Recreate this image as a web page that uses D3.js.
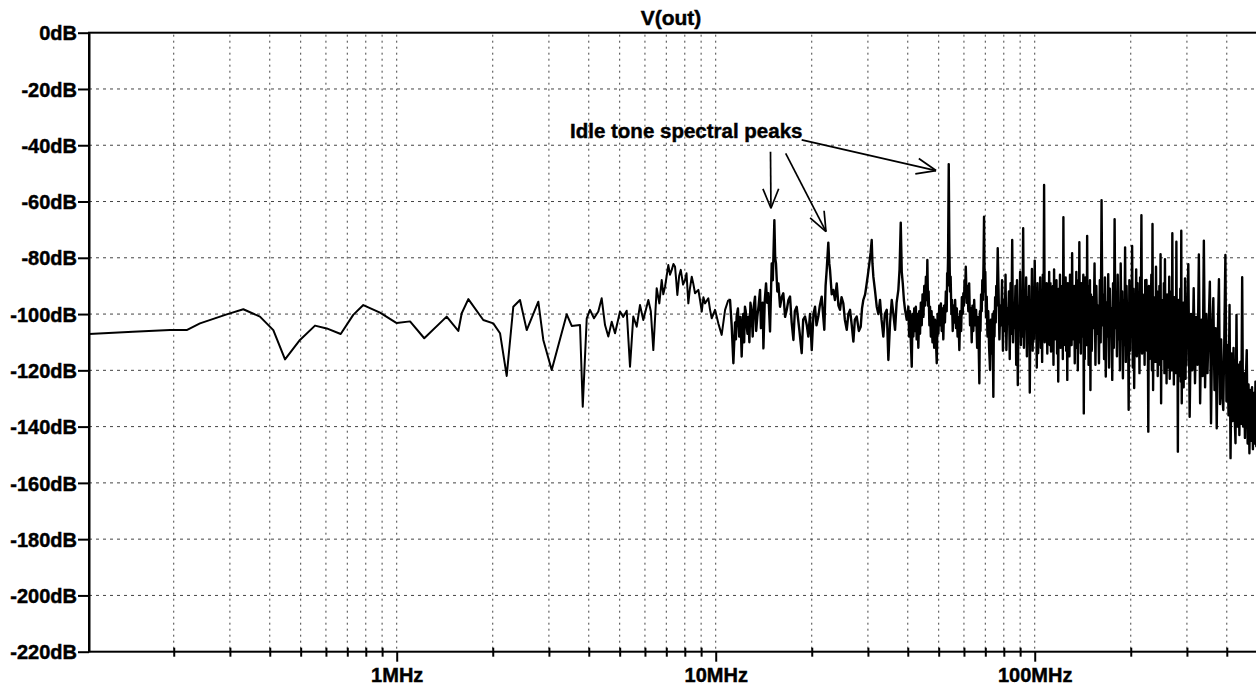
<!DOCTYPE html>
<html><head><meta charset="utf-8">
<script src="https://cdn.jsdelivr.net/npm/d3@7"></script>
<style>
body{margin:0;background:#fff}
svg{display:block}
text{font-family:"Liberation Sans",Arial,Helvetica,sans-serif;font-weight:bold;fill:#000;stroke:#000;stroke-width:0.45px}
</style>
</head><body>
<svg id="chart" width="1256" height="687"></svg>
<script>
// ---------------- data ----------------
const chartTitle = "V(out)";
const xDomainMHz = [0.1085, 500];
const yDomainDb = [-220, 0];
const xMajorTicks = [1, 10, 100];
const xMajorLabels = ["1MHz", "10MHz", "100MHz"];
const yTicks = [0, -20, -40, -60, -80, -100, -120, -140, -160, -180, -200, -220];
const yTickLabels = ["0dB", "-20dB", "-40dB", "-60dB", "-80dB", "-100dB", "-120dB", "-140dB", "-160dB", "-180dB", "-200dB", "-220dB"];

// [frequency MHz, level dB]
const lowBand = [
  [0.1085,-107.1],[0.149,-106.3],[0.1947,-105.7],[0.2196,-105.7],[0.2417,-103.3],[0.2932,-100.1],
  [0.3305,-98.3],[0.3727,-100.9],[0.4104,-105.7],[0.4466,-116.1],[0.4974,-109.2],[0.5545,-104.1],
  [0.6034,-105.1],[0.6675,-107.1],[0.7306,-100.3],[0.7857,-96.8],[0.8864,-99.5],[1.0,-103.2],
  [1.101,-102.6],[1.22,-108.6],[1.434,-100.9],[1.56,-106],[1.599,-99.7],[1.677,-94.7],[1.868,-102.1],
  [2.008,-103.3],[2.108,-106.8],[2.212,-122],[2.32,-97.4],[2.435,-95],[2.556,-105.7],[2.779,-95.6],
  [2.881,-109.2],[3.061,-119.9],[3.412,-100.1],[3.537,-104.2],[3.755,-103.9],[3.83,-132.9],[3.942,-101.5],
  [4.036,-98.5],[4.154,-101.5],[4.285,-99.1],[4.391,-94.4],[4.498,-103.9],[4.606,-108],[4.721,-102.7],
  [4.835,-106.8],[5.012,-99.1],[5.13,-101],[5.26,-98.8],[5.387,-118.7],[5.516,-100.9],[5.655,-104.5],
  [5.789,-96.8],[5.929,-102.1],[6.149,-95],[6.26,-99],[6.374,-112.8],[6.531,-90.8],[6.656,-96.2],
  [6.772,-87.9],[6.85,-93],[6.936,-90.3],[7.103,-82.6],[7.19,-86],[7.28,-84.3],[7.37,-82.2],[7.456,-83.2],
  [7.52,-88],[7.581,-93.2],[7.68,-86.5],[7.77,-84.3],[7.9,-89.5],[8.014,-87.9],[8.1,-85.5],[8.207,-96.2],
  [8.3,-91],[8.412,-86.7],[8.5,-89],[8.614,-92.6],[8.822,-91.4],[8.93,-95],[9.041,-99.1],[9.15,-94],
  [9.258,-96.2],[9.481,-94.4],[9.6,-98.5],[9.716,-101.5],[9.95,-98.5],[10.19,-103.3],[10.44,-107.4],
  [10.7,-98.5],[10.95,-95]
];
const midBand = [
  [10.95,-95],
  [11.09,-95.0],[11.22,-104],[11.36,-117.5],[11.5,-103],[11.57,-109],[11.63,-100.9],[11.74,-98],
  [11.85,-108],[11.96,-101],[12.06,-115.1],[12.13,-106],[12.2,-100],[12.28,-110],[12.35,-97.4],
  [12.42,-99],[12.5,-104],[12.58,-107],[12.66,-100.9],[12.75,-110],[12.85,-96],[12.95,-99],[13.06,-108],
  [13.17,-97],[13.28,-93.8],[13.39,-106],[13.5,-101],[13.63,-97],[13.77,-91.4],[13.86,-105],[13.95,-100],
  [14.03,-96],[14.11,-112.2],[14.25,-95],[14.38,-89.1],[14.5,-96],[14.62,-92.6],
  [14.8,-106.2],[14.98,-82],[15.1,-88],[15.27,-66.6],[15.36,-80],[15.45,-82],[15.6,-92],[15.72,-89.1],
  [15.91,-97.4],[16.1,-94],[16.29,-92.6],[16.5,-101],[16.7,-98.5],[16.9,-95],[17.1,-93.8],[17.3,-103],
  [17.52,-109.2],[17.7,-99],[17.94,-97.4],[18.3,-106],[18.6,-113.9],[18.8,-102],[19.05,-100.9],
  [19.3,-104],[19.51,-108],[19.75,-100],[20.0,-112.8],[20.25,-100],[20.48,-97.4],[20.7,-104],
  [20.97,-100.9],[21.2,-97],[21.49,-93.8],[21.7,-100],[21.9,-105.6],[22.1,-90],[22.28,-84.3],
  [22.54,-74.6],[22.7,-82],[22.82,-84.3],[23.1,-93],[23.37,-91.4],[23.65,-95],[23.95,-89.1],[24.25,-97],
  [24.53,-98.5],[24.8,-94],[25.12,-96.2],[25.4,-102],[25.75,-105.6],[26.05,-100],[26.37,-98.5],
  [26.7,-104],[27.01,-109.8],[27.3,-102],[27.67,-100.9],[28.1,-106],[28.48,-104.5],[28.75,-98],
  [29.02,-95],[29.4,-93],[29.74,-89.1],[30.0,-86],[30.31,-82],[30.6,-78],[30.83,-73.7],[31.0,-82],
  [31.2,-86.7],[31.6,-92],[31.97,-97.4],[32.35,-100],[32.74,-95],[33.1,-102],[33.53,-108],[33.9,-100],
  [34.37,-98.5],[34.77,-116.3],[35.2,-103],[35.63,-95],[36.05,-100],[36.49,-105.6],[36.9,-96],
  [37.37,-91.4],[37.7,-84],[38.02,-67.5],[38.3,-85],[38.58,-89.1],[38.9,-95],[39.22,-98.5],[39.7,-102],
  [40.17,-97.4],[40.4,-108],[40.65,-99],[40.9,-110],[41.16,-118.7],[41.4,-100],[41.65,-108],[41.9,-98],
  [42.16,-106],[42.4,-97.4],[42.65,-109],[42.9,-100],[43.17,-112],[43.45,-99],[43.7,-107],[43.95,-96],
  [44.24,-104],[44.5,-93],[44.8,-101],[45.05,-90],[45.31,-97],[45.6,-86.7],[45.85,-95],[46.07,-80.8],
  [46.3,-97],[46.5,-92],[46.75,-104],[46.97,-97.4],[47.25,-108],[47.5,-99],[47.8,-110],[48.1,-101],
  [48.4,-112],[48.7,-102],[49.0,-109],[49.3,-117.5],[49.6,-100],[49.9,-107],[50.2,-97],[50.48,-104],
  [50.8,-96.2],[51.1,-106],[51.4,-98],[51.7,-109],[52.0,-97],[52.3,-103],[52.65,-92],[52.98,-99],
  [53.15,-85.5],[53.3,-90],[53.5,-80],[53.76,-46.7],[54.0,-75],[54.27,-92],[54.5,-86.7],[54.8,-100],
  [55.05,-95],[55.33,-106],[55.65,-97],[56.0,-103],[56.3,-95],[56.67,-105],[57.0,-98],[57.3,-108],
  [57.65,-101],[58.04,-112.8],[58.4,-99],[58.8,-106],[59.1,-94],[59.48,-100],[59.75,-92.6],[60.0,-97],
  [60.25,-88],[60.47,-94],[60.8,-83.2],[61.2,-96],[61.55,-90],[61.92,-99],[62.3,-89.1],[62.7,-104],
  [63.1,-98],[63.46,-110],[63.8,-97],[64.2,-106],[64.6,-95],[65.0,-104],[65.5,-98.5],[66.0,-112],
  [66.5,-101],[67.05,-124.6],[67.35,-99],[67.6,-106],[67.9,-93],[68.22,-99],[68.5,-88],[68.8,-95],
  [69.1,-82],[69.36,-65.4],[69.7,-92],[70.0,-85],[70.35,-101],[70.72,-93.8],[71.1,-108],[71.5,-99],
  [71.95,-112],[72.44,-119.9],[72.85,-102],[73.3,-114],[73.75,-100],[74.18,-129.4],[74.5,-99],[74.8,-108],
  [75.15,-94],[75.47,-103],[75.75,-90],[76.0,-97],[76.3,-88],[76.56,-76.6]
];
// FFT bins (decimated): start MHz, step MHz, levels dB
const binsAStart = 77, binsAStep = 0.5;
const binsADb = [
  -91,-109,-97,-104,-88,-113,-95,-106,-86,-112.8,
  -98,-103,-92,-116,-89,-107,-73.7,-110,-96,-105,
  -90,-118,-88,-125.2,-97,-104,-85,-111,-93,-108,
  -69.5,-112,-96,-103,-87,-115,-94,-107,-90,-127.9,
  -95,-106,-84,-113,-98,-109,-81,-104,-91,-119,
  -89,-113.9,-97,-105,-87,-112,-92,-117,-86,-108,
  -54.1,-110,-95,-104,-89,-114,-93,-108,-85,-111,
  -89,-113.3,-97,-106,-90,-118,-84.1,-109,-94,-103,
  -88,-114,-96,-124,-91,-107,-86,-112,-95,-105,
  -90,-116,-65.6,-111,-97,-106,-87,-113,-93,-123.4,
  -89,-108,-96,-115,-86,-104,-88,-111,-78.4,-109,
  -95,-106,-90,-117.5,-97,-112,-85,-107,-93,-120,
  -88,-110,-74.5,-105,-96,-114,-89,-108,-94,-103,
  -86,-135.3,-92,-116,-87,-109,-97,-111,-72.2,-106,
  -90,-118,-95,-104,-88,-127,-93
];
const binsBStart = 151, binsBStep = 1;
const binsBDb = [
  -113,-94,-105,-82,-118,-90,-107,-97,-117.5,-88,
  -110,-59.5,-104,-93,-116,-87,-122.2,-96,-108,-85.8,
  -119,-91,-106,-98,-123.4,-89,-112,-66.3,-105,-94,
  -115,-86,-109,-97,-120,-82,-106,-92,-122.8,-95,
  -111,-76.3,-117,-90,-104,-98,-134,-88,-113,-93,
  -107,-75.8,-119,-91,-126.3,-96,-108,-84.1,-115,-89,
  -110,-97,-121,-87,-106,-64.9,-114,-93,-109,-98,
  -118,-88,-107,-87.9,-113,-95,-141.8,-90,-116,-97,
  -108,-86,-120,-68,-127,-94,-111,-99,-117,-83.2,
  -112,-92,-122,-97,-109,-90,-118,-78.7,-131.7,-95,
  -116,-100,-110,-89,-121,-80.5,-113,-98,-124.6,-93,
  -119,-101,-112,-86.7,-123,-96,-115,-92,-120,-71.3,
  -114,-99,-125,-94,-117,-102,-121,-74.3,-113,-97,
  -148.9,-95,-122,-103,-116,-91,-124,-70.4,-131.7,-100,
  -119,-96,-126,-101,-115,-87.3,-123,-98,-118,-104
];
const binsCStart = 303, binsCStep = 3;
const binsCDb = [
  -82.3,-136.5,-100,-120,-90.8,-124.6,-101,-118,-78.8,-131.7,-102,-122,-73.9,-126,-100,-121,-104,-88.5,-138.8,-106,
  -94.4,-127,-105,-140.6,-107,-87.6,-132,-109,-128,-134.1,-108,-79,-131,-111,-136,-96.8,-151.2,-114,-138,-112,
  -135,-145.9,-100.3,-140,-118,-143,-117,-139,-86.9,-140,-121,-144,-123,-112.8,-146,-125,-149.5,-127,-145,-126,
  -148,-128,-146,-124,-147,-129
];
const annotationText = "Idle tone spectral peaks";
const annotationAt = [3.494, -37.4];
const arrowFrom = [[14.85,-42.3],[16.57,-42.9],[18.6,-38.1]];
const arrowTo   = [[14.9,-62.4],[22.17,-70.7],[49.05,-49.0]];

// ---------------- drawing ----------------
const svg = d3.select("#chart");
const L = 89, R = 1257.7, T = 32.7, B = 651.7;
const x = d3.scaleLog().domain(xDomainMHz).range([L, R]);
const y = d3.scaleLinear().domain(yDomainDb).range([B, T]);

function expandBins(start, step, vals){ return vals.map((v,i)=>[start + i*step, v]); }
const denseSeries = midBand.concat(
  expandBins(binsAStart, binsAStep, binsADb),
  expandBins(binsBStart, binsBStep, binsBDb),
  expandBins(binsCStart, binsCStep, binsCDb));

svg.append("defs").append("clipPath").attr("id","plotclip")
  .append("rect").attr("x",L).attr("y",T).attr("width",R-L).attr("height",B-T);

// grid
const gridX = x.ticks().filter(v => v > xDomainMHz[0] && v < xDomainMHz[1]);
svg.append("g").selectAll("line").data(gridX).join("line")
  .attr("x1",d=>x(d)).attr("x2",d=>x(d)).attr("y1",T+2).attr("y2",B)
  .attr("stroke","#444").attr("stroke-width",1).attr("stroke-dasharray","2,4");
svg.append("g").selectAll("line").data(yTicks.filter(v=>v<0 && v>-220)).join("line")
  .attr("x1",L).attr("x2",R).attr("y1",d=>y(d)).attr("y2",d=>y(d))
  .attr("stroke","#444").attr("stroke-width",1).attr("stroke-dasharray","3,4");

// trace
const line = d3.line().x(d=>x(d[0])).y(d=>y(d[1]));
const traceG = svg.append("g").attr("clip-path","url(#plotclip)")
  .attr("fill","none").attr("stroke","#000").attr("stroke-linejoin","round");
traceG.append("path").datum(lowBand).attr("d",line).attr("stroke-width",2);
traceG.append("path").datum(denseSeries).attr("d",line).attr("stroke-width",2.4);

// frame
svg.append("rect").attr("x",L).attr("y",T).attr("width",R-L).attr("height",B-T)
  .attr("fill","none").attr("stroke","#000").attr("stroke-width",2);

// y axis
const yAxis = svg.append("g").attr("transform",`translate(${L},0)`)
  .call(d3.axisLeft(y).tickValues(yTicks).tickSize(11).tickSizeOuter(0).tickPadding(1)
    .tickFormat((d,i)=>yTickLabels[i]));
yAxis.select(".domain").attr("stroke-width",2);
yAxis.selectAll(".tick line").attr("stroke-width",2);
yAxis.selectAll("text").attr("font-size",20).attr("font-family",null).attr("dy","0.36em");

// x axis minor
const minorX = gridX.filter(v => !xMajorTicks.includes(v));
const xMinor = svg.append("g").attr("transform",`translate(0,${B})`)
  .call(d3.axisBottom(x).tickValues(minorX).tickSize(5).tickSizeOuter(0).tickFormat(""));
xMinor.select(".domain").remove();
xMinor.selectAll(".tick line").attr("y1",-4).attr("y2",5).attr("stroke-width",2);
// x axis major
const xMajor = svg.append("g").attr("transform",`translate(0,${B})`)
  .call(d3.axisBottom(x).tickValues(xMajorTicks).tickSize(10).tickSizeOuter(0).tickPadding(6)
    .tickFormat((d,i)=>xMajorLabels[i]));
xMajor.select(".domain").remove();
xMajor.selectAll(".tick line").attr("stroke-width",2);
xMajor.selectAll("text").attr("font-size",20).attr("font-family",null);

// title
svg.append("text").attr("x",671).attr("y",25).attr("text-anchor","middle")
  .attr("font-size",21).text(chartTitle);

// annotation
svg.append("text").attr("x",x(annotationAt[0])).attr("y",y(annotationAt[1]))
  .attr("font-size",20.5).text(annotationText);
const ag = svg.append("g").attr("stroke","#000").attr("stroke-width",1.7).attr("fill","none");
arrowFrom.forEach((f,i)=>{
  const sx=x(f[0]), sy=y(f[1]), tx=x(arrowTo[i][0]), ty=y(arrowTo[i][1]);
  ag.append("line").attr("x1",sx).attr("y1",sy).attr("x2",tx).attr("y2",ty);
  const a = Math.atan2(sy-ty, sx-tx), len=21, spread=22*Math.PI/180;
  [a-spread, a+spread].forEach(b=>{
    ag.append("line").attr("x1",tx).attr("y1",ty)
      .attr("x2",tx+len*Math.cos(b)).attr("y2",ty+len*Math.sin(b));
  });
});
</script>
</body></html>
